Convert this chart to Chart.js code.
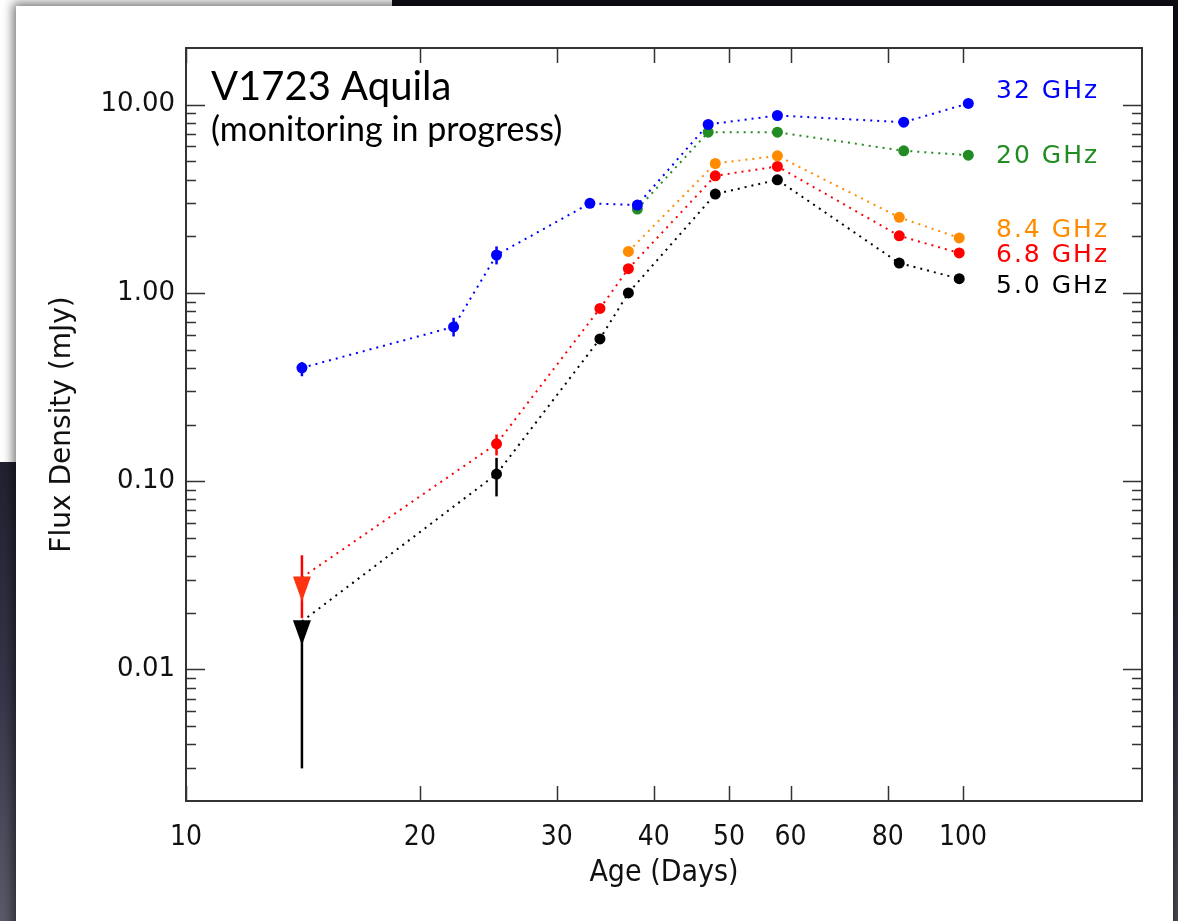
<!DOCTYPE html>
<html>
<head>
<meta charset="utf-8">
<script src="https://cdn.jsdelivr.net/npm/chart.js@4.4.1/dist/chart.umd.min.js"></script>
<style>
html, body { margin: 0; padding: 0; }
body {
    width: 1178px; height: 921px; overflow: hidden; position: relative;
    background: linear-gradient(to bottom, #0f0f17 0%, #1c1c2a 45%, #36364a 75%, #5a5a68 100%);
}
#paper { position: absolute; left: 0; top: 0; width: 392px; height: 462px; background: #fff; }
#panel {
    position: absolute; left: 16px; top: 6px; width: 1157px; height: 940px; background: #fff;
    box-shadow: 0 0 10px 3px rgba(0, 0, 0, 0.55);
}
#wrap { position: absolute; left: 0; top: 0; width: 1178px; height: 921px; }
</style>
</head>
<body>
<div id="paper"></div>
<div id="panel"></div>
<div id="wrap"><canvas id="fluxChart" width="1178" height="921"></canvas></div>
<script>
// Age of the nova in days and flux density in mJy, per band
var days32 = [14.1, 22.1, 25.1, 33.1, 38.1, 47.0, 57.7, 83.9, 101.6];
var flux32 = [0.40, 0.66, 1.59, 2.99, 2.93, 7.85, 8.76, 8.07, 10.15];
var lo32 = [0.361, 0.587, 1.417, null, null, null, null, null, null];
var hi32 = [0.429, 0.738, 1.766, null, null, null, null, null, null];

var days20 = [38.1, 47.0, 57.7, 83.9, 101.6];
var flux20 = [2.79, 7.14, 7.14, 5.69, 5.39];

var days84 = [37.1, 48.0, 57.7, 82.8, 98.9];
var flux84 = [1.66, 4.87, 5.35, 2.52, 1.96];

var days68 = [14.1, 25.1, 34.1, 37.1, 48.0, 57.7, 82.8, 98.9];
var flux68 = [0.0308, 0.158, 0.827, 1.345, 4.19, 4.70, 2.01, 1.63];
var lo68 = [0.0187, 0.137, null, null, null, null, null, null];
var hi68 = [0.0404, 0.177, null, null, null, null, null, null];
var limit68 = [true, false, false, false, false, false, false, false];

var days50 = [14.1, 25.1, 34.1, 37.1, 48.0, 57.7, 82.8, 98.9];
var flux50 = [0.018, 0.109, 0.570, 1.00, 3.35, 3.99, 1.44, 1.19];
var lo50 = [0.00298, 0.083, null, null, null, null, null, null];
var hi50 = [0.018, 0.133, null, null, null, null, null, null];
var limit50 = [true, false, false, false, false, false, false, false];

// Band labels (top to bottom)
var bandNames = ['32 GHz', '20 GHz', '8.4 GHz', '6.8 GHz', '5.0 GHz'];

// Axis ticks
var xTicks = [10, 20, 30, 40, 50, 60, 80, 100];
var yTicks = [0.003, 0.004, 0.005, 0.006, 0.007, 0.008, 0.009,
    0.01, 0.02, 0.03, 0.04, 0.05, 0.06, 0.07, 0.08, 0.09,
    0.1, 0.2, 0.3, 0.4, 0.5, 0.6, 0.7, 0.8, 0.9,
    1, 2, 3, 4, 5, 6, 7, 8, 9, 10];
var yMajor = [0.01, 0.1, 1, 10];
var yMajorText = ['0.01', '0.10', '1.00', '10.00'];

var BLUE = '#0000ff', GREEN = '#228b22', ORANGE = '#ff8c00', RED = '#ff0000', BLACK = '#000000';
var bandColors = [BLUE, GREEN, ORANGE, RED, BLACK];

function series(label, color, days, flux, lo, hi, limit, limitColor) {
    return {
        label: label,
        data: days.map((d, i) => ({ x: d, y: flux[i] })),
        borderColor: color,
        backgroundColor: color,
        borderWidth: 2,
        borderDash: [2, 5],
        borderCapStyle: 'butt',
        tension: 0,
        fill: false,
        pointRadius: ctx => (limit && limit[ctx.dataIndex]) ? 0 : 5.5,
        pointHoverRadius: 5.5,
        pointBorderWidth: 0,
        pointBackgroundColor: color,
        errLo: lo || null,
        errHi: hi || null,
        limit: limit || null,
        limitColor: limitColor || color
    };
}

// Error bars and upper-limit lines, under the points
var errorBars = {
    id: 'errorBars',
    beforeDatasetsDraw(chart) {
        var ctx = chart.ctx, x = chart.scales.x, y = chart.scales.y;
        ctx.save();
        ctx.lineWidth = 2.5;
        chart.data.datasets.forEach(ds => {
            if (!ds.errLo) return;
            ds.data.forEach((p, i) => {
                if (ds.errLo[i] == null) return;
                var px = x.getPixelForValue(p.x);
                ctx.strokeStyle = ds.borderColor;
                ctx.beginPath();
                ctx.moveTo(px, y.getPixelForValue(ds.errHi[i]));
                ctx.lineTo(px, y.getPixelForValue(ds.errLo[i]));
                ctx.stroke();
            });
        });
        ctx.restore();
    },
    afterDatasetsDraw(chart) {
        // downward triangles for upper limits
        var ctx = chart.ctx, x = chart.scales.x, y = chart.scales.y;
        ctx.save();
        chart.data.datasets.forEach(ds => {
            if (!ds.limit) return;
            ds.data.forEach((p, i) => {
                if (!ds.limit[i]) return;
                var px = x.getPixelForValue(p.x), py = y.getPixelForValue(p.y);
                ctx.fillStyle = ds.limitColor;
                ctx.beginPath();
                ctx.moveTo(px - 9, py - 1);
                ctx.lineTo(px + 9, py - 1);
                ctx.lineTo(px, py + 24);
                ctx.closePath();
                ctx.fill();
            });
        });
        ctx.restore();
    }
};

// Box frame with inward ticks on all four sides
var frameTicks = {
    id: 'frameTicks',
    afterDatasetsDraw(chart) {
        var ctx = chart.ctx, a = chart.chartArea, x = chart.scales.x, y = chart.scales.y;
        ctx.save();
        ctx.strokeStyle = '#333';
        ctx.lineWidth = 1.5;
        ctx.beginPath();
        y.ticks.forEach(t => {
            var py = Math.round(y.getPixelForValue(t.value)) + 0.5;
            var len = yMajor.indexOf(t.value) >= 0 ? 19 : 10;
            ctx.moveTo(a.left, py); ctx.lineTo(a.left + len, py);
            ctx.moveTo(a.right, py); ctx.lineTo(a.right - len, py);
        });
        x.ticks.forEach(t => {
            var px = Math.round(x.getPixelForValue(t.value)) + 0.5;
            ctx.moveTo(px, a.bottom); ctx.lineTo(px, a.bottom - 15);
            ctx.moveTo(px, a.top); ctx.lineTo(px, a.top + 15);
        });
        ctx.stroke();
        ctx.lineWidth = 2;
        ctx.strokeRect(a.left, a.top, a.right - a.left, a.bottom - a.top);
        ctx.restore();
    }
};

// Title and band labels
var annotations = {
    id: 'annotations',
    afterDraw(chart) {
        var ctx = chart.ctx;
        ctx.save();
        ctx.textBaseline = 'alphabetic';
        ctx.textAlign = 'left';
        ctx.fillStyle = '#000';
        ctx.font = '40px Lato';
        ctx.fillText('V1723 Aquila', 211, 100);
        ctx.font = '34px Lato';
        ctx.fillText('(monitoring in progress)', 211, 141);

        var baselines = [98, 163, 237, 262, 293];
        ctx.font = '25px "DejaVu Sans"';
        ctx.letterSpacing = '2px';
        bandNames.forEach((name, i) => {
            ctx.fillStyle = bandColors[i];
            ctx.fillText(name, 996, baselines[i]);
        });
        ctx.restore();
    }
};

var ctx = document.getElementById('fluxChart').getContext('2d');
var fluxChart = new Chart(ctx, {
    type: 'line',
    data: {
        datasets: [
            series('32 GHz', BLUE, days32, flux32, lo32, hi32),
            series('20 GHz', GREEN, days20, flux20),
            series('8.4 GHz', ORANGE, days84, flux84),
            series('6.8 GHz', RED, days68, flux68, lo68, hi68, limit68, '#ff3311'),
            series('5.0 GHz', BLACK, days50, flux50, lo50, hi50, limit50, BLACK)
        ]
    },
    options: {
        responsive: false,
        animation: false,
        layout: { padding: { left: 0, top: 48, right: 36, bottom: 0 } },
        plugins: {
            legend: { display: false },
            tooltip: { enabled: false }
        },
        scales: {
            x: {
                type: 'logarithmic',
                min: 10,
                max: 170,
                afterBuildTicks: scale => { scale.ticks = xTicks.map(v => ({ value: v })); },
                afterFit: scale => { scale.height = 120; },
                grid: { display: false, drawTicks: false },
                border: { display: false },
                ticks: {
                    autoSkip: false,
                    maxRotation: 0,
                    padding: 20,
                    color: '#111',
                    font: { family: '"DejaVu Sans Condensed", "Liberation Sans Narrow", sans-serif', size: 28 },
                    callback: v => String(v)
                },
                title: {
                    display: true,
                    text: 'Age (Days)',
                    color: '#111',
                    font: { family: '"DejaVu Sans Condensed", "Liberation Sans Narrow", sans-serif', size: 30 },
                    padding: { top: 0, bottom: 30 }
                }
            },
            y: {
                type: 'logarithmic',
                min: 0.002,
                max: 20,
                afterBuildTicks: scale => { scale.ticks = yTicks.map(v => ({ value: v })); },
                afterFit: scale => { scale.width = 186; },
                grid: { display: false, drawTicks: false },
                border: { display: false },
                ticks: {
                    autoSkip: false,
                    padding: 11,
                    color: '#111',
                    font: { family: '"DejaVu Sans", sans-serif', size: 26 },
                    callback: v => {
                        var i = yMajor.indexOf(v);
                        return i >= 0 ? yMajorText[i] : '';
                    }
                },
                title: {
                    display: true,
                    text: 'Flux Density (mJy)',
                    color: '#111',
                    font: { family: '"DejaVu Sans", sans-serif', size: 28 },
                    padding: { top: 46, bottom: 0 }
                }
            }
        }
    },
    plugins: [errorBars, frameTicks, annotations]
});
</script>
</body>
</html>
